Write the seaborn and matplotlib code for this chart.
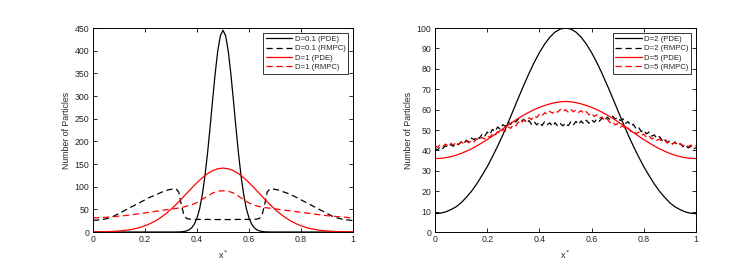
import seaborn as sns
import matplotlib.pyplot as plt

# =======================
# Data
# =======================
# grids
x_fine = [i / 100 for i in range(101)]
x_coarse = [i / 50 for i in range(51)]

# left panel: D=0.1 (PDE) on the fine grid (narrow peak)
pde_01 = [0.0] * 32 + [0.1, 0.2, 0.5, 1.1, 2.4, 4.9, 9.6, 17.7, 31, 51, 81, 121, 171, 229, 291, 350, 400, 433,
          445,
          433, 400, 350, 291, 229, 171, 121, 81, 51, 31, 17.7, 9.6, 4.9, 2.4, 1.1, 0.5, 0.2, 0.1] + [0.0] * 32

# left panel: D=0.1 (RMPC) on the fine grid
rmpc_01 = [26, 26, 26.5, 27, 28, 29, 31, 33, 35, 38, 41,
           44, 47, 50, 53, 56, 59, 62, 65, 68, 71,
           74, 77, 79, 82, 84, 87, 89, 91, 93, 94,
           95, 95, 88, 60, 37, 30, 28.5, 28, 28, 27.5,
           28, 27.5, 27.5, 28, 27.5, 27.5, 27.5, 27.5, 27.5, 27.5,
           27.5, 27.5, 27.5, 27.5, 27.5, 28, 27.5, 27.5, 28, 27.5,
           28, 28, 28.5, 30, 37, 60, 88, 95, 95, 94,
           93, 91, 89, 87, 85, 82, 80, 77, 74, 71,
           68, 65, 62, 59, 56, 53, 50, 47, 44, 41,
           38, 35, 33, 31, 29.5, 28, 27, 26.5, 26, 25]

# left panel: D=1 (PDE) and D=1 (RMPC) on the coarse grid
pde_1 = [0.2, 0.4, 0.6, 0.9, 1.5, 2.2, 3.3, 4.9, 7.1, 9.9, 13.7, 18.5, 24.5, 31.7, 40.2, 50,
         61, 72.7, 84.9, 97.1, 108.8, 119.5, 128.5, 135.3, 139.5,
         141,
         139.5, 135.3, 128.5, 119.5, 108.8, 97.1, 84.9, 72.7, 61,
         50, 40.2, 31.7, 24.5, 18.5, 13.7, 9.9, 7.1, 4.9, 3.3, 2.2, 1.5, 0.9, 0.6, 0.4, 0.2]
rmpc_1 = [31, 31.5, 32, 33, 34, 35, 36, 37.5, 39, 40.5, 42, 44, 45.5, 47, 49, 50.5, 52, 54, 57, 60,
          65, 72, 79, 86, 90,
          91,
          90, 86, 79, 71, 64, 59, 56, 54, 52.5, 51, 49.5, 48, 46.5, 45, 43.5, 42, 40.5, 39, 37.5,
          36, 35, 34, 33, 32, 31]

# right panel: D=2 (PDE) and D=5 (PDE) on the coarse grid
pde_2 = [9.0, 9.2, 9.8, 10.9, 12.3, 14.3, 17.0, 20.0, 23.6, 27.7, 32.0, 36.9, 42.1, 47.6, 53.6,
         59.7, 65.9, 71.9, 77.7, 83.1, 87.9, 92.1, 95.5, 98.0, 99.5,
         100,
         99.5, 98.0, 95.5, 92.1, 87.9, 83.1, 77.7, 71.9, 65.9, 59.7, 53.6, 47.6, 42.1, 36.9,
         32.0, 27.7, 23.6, 20.0, 17.0, 14.3, 12.3, 10.9, 9.8, 9.2, 9.0]
pde_5 = [36.0, 36.1, 36.4, 36.9, 37.6, 38.5, 39.6, 40.8, 42.2, 43.7, 45.3, 47.0, 48.8, 50.6, 52.4,
         54.1, 55.8, 57.3, 58.7, 60.0, 61.1, 62.0, 62.8, 63.4, 63.8,
         64.0,
         63.8, 63.4, 62.8, 62.0, 61.1, 60.0, 58.7, 57.3, 55.8, 54.1, 52.4, 50.6, 48.8, 47.0,
         45.3, 43.7, 42.2, 40.8, 39.6, 38.5, 37.6, 36.9, 36.4, 36.1, 36.0]

# right panel: D=2 (RMPC) and D=5 (RMPC) on the fine grid (noisy)
rmpc_2 = [41.0, 40.2, 41.8, 40.9, 42.3, 41.5, 42.9, 42.0, 43.6, 42.8, 44.2,
          43.3, 45.0, 44.1, 46.0, 45.2, 46.8, 45.9, 47.9, 46.8, 49.0,
          47.8, 50.3, 49.2, 51.5, 50.4, 52.6, 51.7, 53.9, 52.8, 54.8,
          53.9, 55.6, 54.2, 55.3, 53.4, 54.6, 52.8, 54.1, 52.5, 53.8,
          52.2, 54.0, 52.6, 53.5, 51.8, 53.6, 51.9, 53.2, 52.0, 53.4,
          52.1, 53.9, 52.4, 54.2, 52.7, 54.4, 53.0, 54.8, 53.3, 55.0,
          53.8, 55.4, 54.3, 55.9, 54.7, 56.3, 55.1, 56.8, 55.4, 56.2,
          54.6, 55.5, 53.2, 54.1, 52.0, 52.8, 50.7, 51.4, 49.2, 50.0,
          48.1, 49.0, 47.0, 47.6, 45.9, 46.8, 44.9, 45.8, 43.9, 44.7,
          43.2, 44.1, 42.4, 43.3, 41.8, 42.7, 41.2, 42.0, 40.6, 41.3]
rmpc_5 = [42.2, 41.5, 42.9, 41.9, 43.1, 42.3, 43.5, 42.6, 43.8, 43.0, 44.1,
          43.3, 44.6, 43.7, 45.1, 44.2, 45.7, 44.9, 46.4, 45.6, 47.2,
          46.4, 48.1, 47.3, 49.2, 48.3, 50.3, 49.5, 51.5, 50.8, 52.7,
          52.0, 53.9, 53.1, 55.0, 54.2, 56.0, 55.1, 57.0, 56.1, 57.8,
          56.9, 58.5, 57.6, 59.2, 58.2, 59.6, 58.7, 60.1, 58.9, 60.0,
          58.8, 60.2, 58.9, 59.9, 58.6, 59.5, 58.1, 59.0, 57.4, 58.3,
          56.6, 57.5, 55.7, 56.4, 54.6, 55.4, 53.6, 54.3, 52.5, 53.2,
          51.4, 52.1, 50.3, 51.0, 49.3, 49.9, 48.2, 48.9, 47.3, 48.0,
          46.4, 47.2, 45.6, 46.3, 44.9, 45.6, 44.2, 45.0, 43.6, 44.4,
          43.1, 43.9, 42.6, 43.4, 42.2, 43.0, 41.8, 42.6, 41.5, 42.3]

x_ticks = [0, 0.2, 0.4, 0.6, 0.8, 1]
x_tick_labels = ["0", "0.2", "0.4", "0.6", "0.8", "1"]

# =======================
# Style
# =======================
sns.set_style("ticks")
plt.rcParams['font.family'] = ['Liberation Sans', 'DejaVu Sans']
plt.rcParams['xtick.direction'] = 'in'
plt.rcParams['ytick.direction'] = 'in'
plt.rcParams['xtick.major.size'] = 3
plt.rcParams['ytick.major.size'] = 3
plt.rcParams['axes.linewidth'] = 0.7

fig = plt.figure(figsize=(7.45, 2.68), dpi=100)
ax1 = fig.add_axes([93 / 745, 36 / 268, 260 / 745, 204 / 268])
ax2 = fig.add_axes([435 / 745, 36 / 268, 261 / 745, 204 / 268])

# =======================
# Left panel
# =======================
sns.lineplot(x=x_fine, y=pde_01, ax=ax1, color="black", lw=0.9, label="D=0.1 (PDE)")
sns.lineplot(x=x_fine, y=rmpc_01, ax=ax1, color="black", lw=0.9, linestyle=(0, (5, 3)), label="D=0.1 (RMPC)")
sns.lineplot(x=x_coarse, y=pde_1, ax=ax1, color="#ff0000", lw=0.9, label="D=1 (PDE)")
sns.lineplot(x=x_coarse, y=rmpc_1, ax=ax1, color="#ff0000", lw=0.9, linestyle=(0, (5, 3)), label="D=1 (RMPC)")
ax1.set_ylim(0, 450)
ax1.set_yticks(range(0, 451, 50))

# =======================
# Right panel
# =======================
sns.lineplot(x=x_coarse, y=pde_2, ax=ax2, color="black", lw=0.9, label="D=2 (PDE)")
sns.lineplot(x=x_fine, y=rmpc_2, ax=ax2, color="black", lw=0.9, linestyle=(0, (5, 3)), label="D=2 (RMPC)")
sns.lineplot(x=x_coarse, y=pde_5, ax=ax2, color="#ff0000", lw=0.9, label="D=5 (PDE)")
sns.lineplot(x=x_fine, y=rmpc_5, ax=ax2, color="#ff0000", lw=0.9, linestyle=(0, (5, 3)), label="D=5 (RMPC)")
ax2.set_ylim(0, 100)
ax2.set_yticks(range(0, 101, 10))

for ax in (ax1, ax2):
    ax.set_xlim(0, 1)
    ax.set_xticks(x_ticks)
    ax.set_xticklabels(x_tick_labels)
    ax.tick_params(labelsize=6.3, top=True, right=True, width=0.7, pad=2.5)
    ax.set_xlabel("x$^*$", fontsize=6.5, labelpad=3)
    ax.set_ylabel("Number of Particles", fontsize=6.3, labelpad=2.5)
    for s in ax.spines.values():
        s.set_visible(True)
        s.set_color("black")
    leg = ax.legend(loc="upper right", fontsize=5.6, frameon=True, fancybox=False,
                    edgecolor="black", handlelength=3.4, handletextpad=0.3,
                    borderpad=0.35, labelspacing=0.25, borderaxespad=0.6)
    leg.get_frame().set_linewidth(0.7)

fig.savefig("out.png", dpi=100)
